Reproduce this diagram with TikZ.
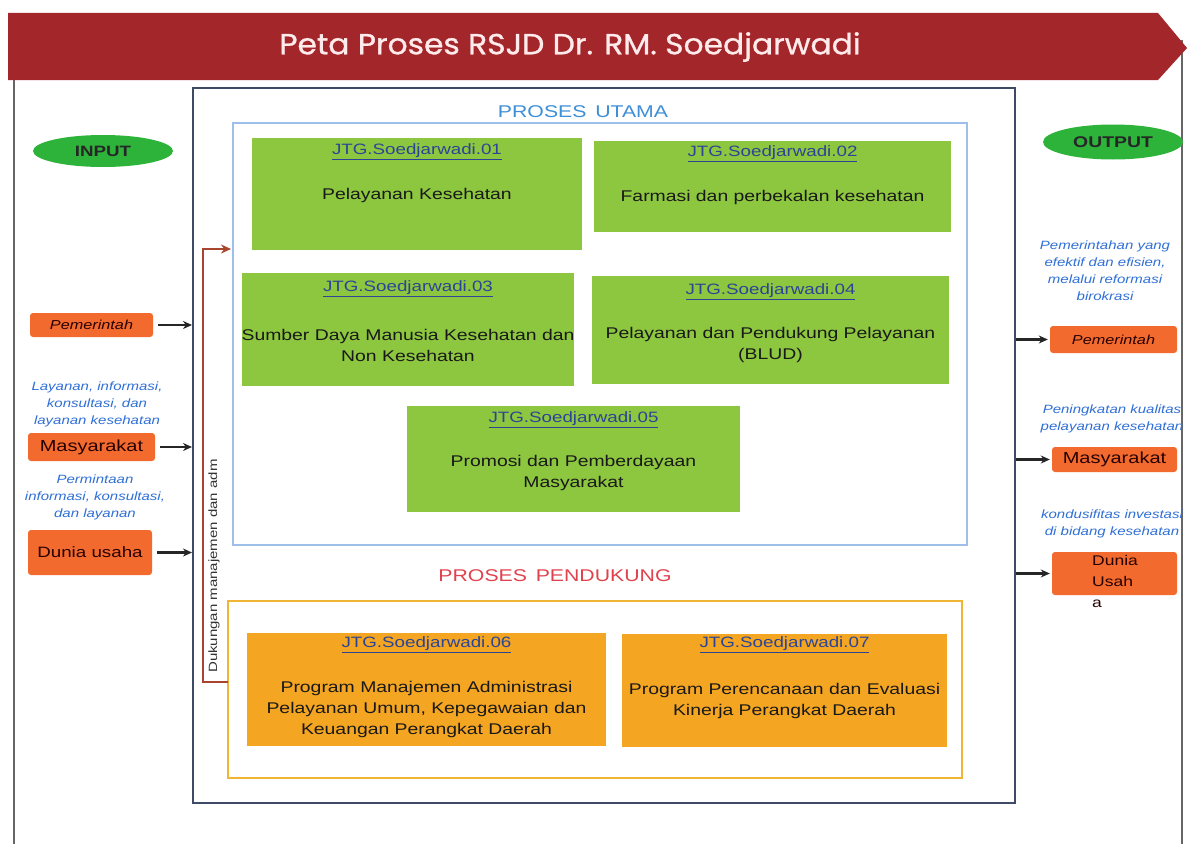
\documentclass[tikz,border=0pt]{standalone}
\usepackage{fontspec}
\setmainfont{Liberation Sans}[FakeStretch=1.25]
\newfontfamily\titlefont{Poppins}[FakeStretch=1.08,FakeBold=1]
\usetikzlibrary{arrows.meta,shapes.geometric}
\definecolor{bannerred}{HTML}{A3262B}
\definecolor{gbox}{HTML}{8DC63F}
\definecolor{obox}{HTML}{F4A522}
\definecolor{oline}{HTML}{F0B535}
\definecolor{bline}{HTML}{9CC0E8}
\definecolor{mline}{HTML}{3E4A66}
\definecolor{ellg}{HTML}{2DB33A}
\definecolor{sbox}{HTML}{F26A2E}
\definecolor{itblue}{HTML}{2F6FD6}
\definecolor{ttlblue}{HTML}{2B4596}
\definecolor{pured}{HTML}{E0434D}
\definecolor{pblue}{HTML}{3D8FD8}
\definecolor{conred}{HTML}{A8452E}
\begin{document}
\begin{tikzpicture}[x=1pt,y=-1pt,
  gproc/.style={fill=gbox,draw=none,minimum width=#1,inner sep=0pt},
  oproc/.style={fill=obox,draw=none,minimum width=#1,inner sep=0pt},
  ptitle/.style={text=ttlblue,font=\fontsize{15}{18}\selectfont,inner sep=0pt},
  pbody/.style={align=center,font=\fontsize{15.5}{21}\selectfont,inner sep=0pt,text=black!90},
  sbx/.style={fill=sbox,draw=none,rounded corners=3pt,inner sep=0pt,text=black!85!red},
  itx/.style={text=itblue,font=\itshape\fontsize{12}{17}\selectfont,align=center,inner sep=0pt},
  ell/.style={ellipse,fill=ellg,draw=none,inner sep=0pt,font=\bfseries\fontsize{15}{18}\selectfont,text=black!85},
  inarrow/.style={draw=black!85,line width=2.2pt,-{Stealth[length=9pt,width=8pt]}},
]
\useasboundingbox (0,0) rectangle (1188,843);
\fill[white] (0,0) rectangle (1188,843);
% outer frame
\draw[black!60,line width=1.5pt] (14,40) -- (14,850);
\draw[black!60,line width=1.5pt] (1182,40) -- (1182,850);
% banner
\fill[bannerred] (8,13) -- (1158,13) -- (1187,48) -- (1158,80) -- (8,80) -- cycle;
\node[text=white!92!red,font=\titlefont\fontsize{29}{32}\selectfont] (title) at (570,47) {Peta Proses RSJD Dr. RM. Soedjarwadi};
% main box
\node[draw=mline,line width=2pt,minimum width=822,minimum height=715,inner sep=0pt] (main) at (604,445.5) {};
% proses utama
\node[draw=bline,line width=1.6pt,minimum width=734,minimum height=422,inner sep=0pt] (pu) at (600,334) {};
\node[text=pblue,font=\fontsize{17}{19}\selectfont] (putxt) at (583,112) {PROSES\, UTAMA};
% green process boxes
\node[gproc=330,minimum height=112] (b1) at (417,194) {};
\node[ptitle] (t1) at (417,152) {\underline{JTG.Soedjarwadi.01}};
\node[pbody] (x1) at (417,195) {Pelayanan Kesehatan};
\node[gproc=357,minimum height=91] (b2) at (772.5,186.5) {};
\node[ptitle] (t2) at (772.5,154) {\underline{JTG.Soedjarwadi.02}};
\node[pbody] (x2) at (772.5,197) {Farmasi dan perbekalan kesehatan};
\node[gproc=332,minimum height=113] (b3) at (408,329.5) {};
\node[ptitle] (t3) at (408,289) {\underline{JTG.Soedjarwadi.03}};
\node[pbody] (x3) at (408,345) {Sumber Daya Manusia Kesehatan dan\\Non Kesehatan};
\node[gproc=357,minimum height=108] (b4) at (770.5,330) {};
\node[ptitle] (t4) at (770.5,292) {\underline{JTG.Soedjarwadi.04}};
\node[pbody] (x4) at (770.5,345) {Pelayanan dan Pendukung Pelayanan\\(BLUD)};
\node[gproc=333,minimum height=106] (b5) at (573.5,459) {};
\node[ptitle] (t5) at (573.5,420) {\underline{JTG.Soedjarwadi.05}};
\node[pbody] (x5) at (573.5,473) {Promosi dan Pemberdayaan\\Masyarakat};
% proses pendukung
\node[text=pured,font=\fontsize{17}{19}\selectfont] (pdtxt) at (555,576) {PROSES\, PENDUKUNG};
\node[draw=oline,line width=2.2pt,minimum width=734,minimum height=177,inner sep=0pt] (pd) at (595,689.5) {};
\node[oproc=359,minimum height=113] (b6) at (426.5,689.5) {};
\node[ptitle] (t6) at (426.5,645) {\underline{JTG.Soedjarwadi.06}};
\node[pbody] (x6) at (426.5,709) {Program Manajemen Administrasi\\Pelayanan Umum, Kepegawaian dan\\Keuangan Perangkat Daerah};
\node[oproc=325,minimum height=113] (b7) at (784.5,690.5) {};
\node[ptitle] (t7) at (784.5,645) {\underline{JTG.Soedjarwadi.07}};
\node[pbody] (x7) at (784.5,701) {Program Perencanaan dan Evaluasi\\Kinerja Perangkat Daerah};
% support connector
\coordinate (rs) at (228,682);
\coordinate (rt) at (231,249);
\draw[conred,line width=2.2pt,-{Stealth[length=10pt,width=9pt,open]}] (rs) -- (203,682) |- (rt);
\node[rotate=90,font=\fontsize{12}{14}\selectfont,text=black!80] (sup) at (214,566) {Dukungan manajemen dan adm};
% input side
\node[ell,minimum width=140,minimum height=32] (inp) at (103,151) {INPUT};
\node[sbx,minimum width=123,minimum height=24,font=\itshape\fontsize{13}{15}\selectfont] (lp) at (91.5,325) {Pemerintah};
\node[itx] (li1) at (97,404) {Layanan, informasi,\\konsultasi, dan\\layanan kesehatan};
\node[sbx,minimum width=127,minimum height=28,font=\fontsize{16}{18}\selectfont] (lm) at (91.5,447) {Masyarakat};
\node[itx] (li2) at (95,497) {Permintaan\\informasi, konsultasi,\\dan layanan};
\node[sbx,minimum width=124,minimum height=45,font=\fontsize{15}{18}\selectfont] (ld) at (90,552.5) {Dunia usaha};
\draw[inarrow] ([xshift=5pt]lp.east) -- (lp.east -| main.west);
\draw[inarrow] ([xshift=5pt]lm.east) -- (lm.east -| main.west);
\draw[inarrow] ([xshift=5pt]ld.east) -- (ld.east -| main.west);
% output side
\node[ell,minimum width=140,minimum height=35,font=\bfseries\fontsize{15.5}{18}\selectfont] (outp) at (1113,142) {OUTPUT};
\node[itx] (ri1) at (1105,271) {Pemerintahan yang\\efektif dan efisien,\\melalui reformasi\\birokrasi};
\node[sbx,minimum width=127,minimum height=27,font=\itshape\fontsize{13}{15}\selectfont] (rp) at (1113.5,339.5) {Pemerintah};
\node[itx] (ri2) at (1112,419) {Peningkatan kualitas\\pelayanan kesehatan};
\node[sbx,minimum width=125,minimum height=25,font=\fontsize{16}{18}\selectfont] (rm) at (1114.5,459.5) {Masyarakat};
\node[itx] (ri3) at (1112,524) {kondusifitas investasi\\di bidang kesehatan};
\node[sbx,minimum width=125,minimum height=43] (rd) at (1114.5,573.5) {};
\node[anchor=north west,align=left,inner sep=0pt,font=\fontsize{14}{21}\selectfont,text=black!85!red] (rdt) at (1092,555) {Dunia\\Usah\\a};
\draw[inarrow] (main.east |- rp.west) -- ([xshift=-2pt]rp.west);
\draw[inarrow] (main.east |- rm.west) -- ([xshift=-2pt]rm.west);
\draw[inarrow] (main.east |- rd.west) -- ([xshift=-2pt]rd.west);
\end{tikzpicture}
\end{document}
